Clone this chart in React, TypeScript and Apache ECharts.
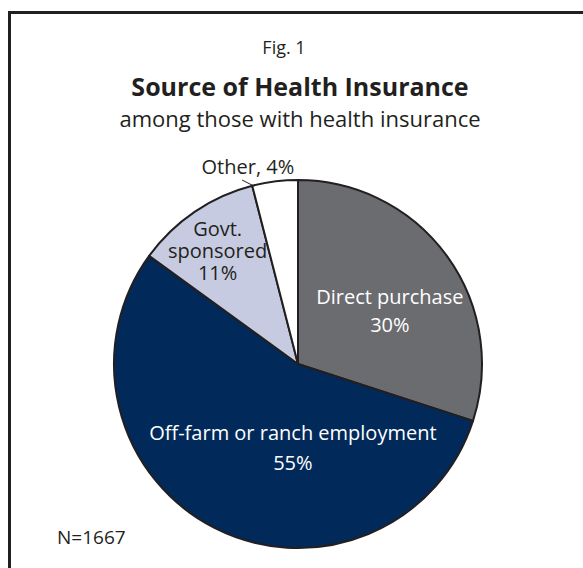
import React, { useEffect, useRef } from 'react';
import * as echarts from 'echarts';

const categories = ['Direct purchase', 'Off-farm or ranch employment', 'Govt.\nsponsored', 'Other'];
const values = [30, 55, 11, 4];
const sliceColors = ['#6b6c70', '#012a5b', '#c6cbe1', '#ffffff'];
const labelColors = ['#ffffff', '#ffffff', '#231f20', '#231f20'];
const titleText = 'Source of Health Insurance';
const subtitleText = 'among those with health insurance';
const figText = 'Fig. 1';
const noteText = 'N=1667';

const FONT = '"Open Sans", sans-serif';
const INK = '#231f20';
const CX = 298;
const CY = 364;
const R = 184;

// label nudges (styling)
const labelOffsets: [number, number][] = [[15, 2], [38, -1], [-27, -35], [0, 0]];
const lineHeights = [28, 30, 22, 22];

function polar(r: number, deg: number): [number, number] {
  const a = (deg * Math.PI) / 180;
  return [CX + r * Math.sin(a), CY - r * Math.cos(a)];
}

export default function App() {
  const ref = useRef<HTMLDivElement>(null);
  useEffect(() => {
    if (!ref.current) return;
    const chart = echarts.init(ref.current, undefined, { renderer: 'svg' });
    const total = values.reduce((a, b) => a + b, 0);
    const cum: number[] = [];
    let acc = 0;
    values.forEach((v) => {
      cum.push(acc);
      acc += v;
    });
    const midAngle = (i: number) => ((cum[i] + values[i] / 2) / total) * 360;

    const data = categories.map((name, i) => ({
      name,
      value: values[i],
      itemStyle: { color: sliceColors[i] },
      label: {
        show: true,
        position: i === 3 ? 'outside' : 'inside',
        color: labelColors[i],
        lineHeight: lineHeights[i],
        formatter: i === 3 ? `${name}, ${values[i]}%` : `${name}\n${values[i]}%`,
      },
      labelLine: { show: i === 3, lineStyle: { color: INK, width: 1 } },
    }));

    chart.setOption({
      animation: false,
      graphic: [
        {
          type: 'rect',
          z: -10,
          shape: { x: 9.5, y: 12.5, width: 640, height: 640 },
          style: { fill: '#fff', stroke: INK, lineWidth: 3 },
        },
        {
          type: 'text', x: 284, y: 47,
          style: { text: figText, fontSize: 18, fontFamily: FONT, fill: INK, textAlign: 'center', textVerticalAlign: 'middle' },
        },
        {
          type: 'text', x: 300, y: 86,
          style: { text: titleText, fontSize: 25, fontWeight: 'bold', fontFamily: FONT, fill: INK, textAlign: 'center', textVerticalAlign: 'middle' },
        },
        {
          type: 'text', x: 300, y: 118,
          style: { text: subtitleText, fontSize: 22, fontFamily: FONT, fill: INK, textAlign: 'center', textVerticalAlign: 'middle' },
        },
        {
          type: 'text', x: 57, y: 537,
          style: { text: noteText, fontSize: 19, fontFamily: FONT, fill: INK, textAlign: 'left', textVerticalAlign: 'middle' },
        },
      ],
      series: [
        {
          type: 'pie',
          center: [CX, CY],
          radius: R,
          startAngle: 90,
          clockwise: true,
          avoidLabelOverlap: false,
          itemStyle: { borderColor: INK, borderWidth: 2 },
          label: { fontFamily: FONT, fontSize: 20 },
          emphasis: { disabled: true },
          data,
          labelLayout: (params: any) => {
            const i = params.dataIndex;
            if (i === 3) {
              const m = midAngle(3);
              const p0 = polar(R * 0.9, m + 1);
              const p2 = polar(R * 1.045, m - 9.7);
              const p1: [number, number] = [(p0[0] + p2[0]) / 2, (p0[1] + p2[1]) / 2];
              const lab = polar(R * 1.11, m - 7);
              return {
                x: lab[0],
                y: lab[1],
                align: 'center',
                verticalAlign: 'middle',
                labelLinePoints: [p0, p1, p2],
              };
            }
            return { dx: labelOffsets[i][0], dy: labelOffsets[i][1] };
          },
        },
      ],
    });
    return () => chart.dispose();
  }, []);
  return (
    <div
      ref={ref}
      style={{ position: 'fixed', left: 0, top: 0, width: 583, height: 568, background: '#fff' }}
    />
  );
}
